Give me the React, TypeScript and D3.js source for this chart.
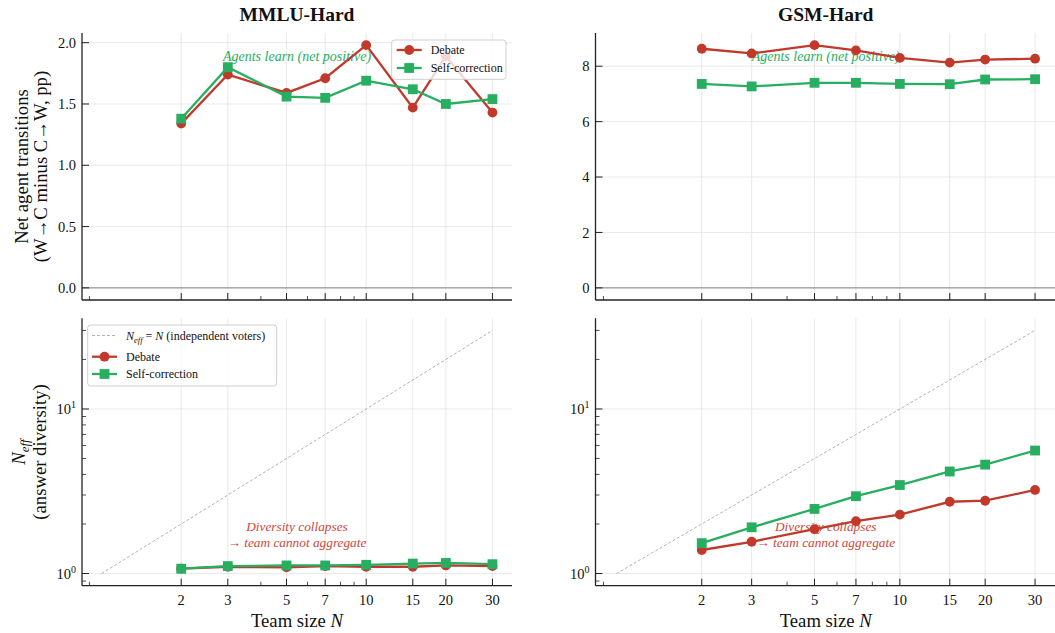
import React from "react";
import * as d3 from "d3";

// team sizes on the shared log x axis
const teamSizes = [2, 3, 5, 7, 10, 15, 20, 30];
const xMajorTicks = [2, 3, 5, 7, 10, 15, 20, 30];

// net agent transitions (pp)
const mmluNetDebate = [1.34, 1.74, 1.59, 1.71, 1.98, 1.47, 1.89, 1.43];
const mmluNetSelf = [1.38, 1.8, 1.56, 1.55, 1.69, 1.62, 1.5, 1.54];
const gsmNetDebate = [8.63, 8.46, 8.76, 8.57, 8.3, 8.13, 8.24, 8.27];
const gsmNetSelf = [7.36, 7.27, 7.4, 7.4, 7.36, 7.35, 7.52, 7.53];

// effective number of voters
const mmluNeffDebate = [1.07, 1.1, 1.09, 1.11, 1.1, 1.1, 1.12, 1.11];
const mmluNeffSelf = [1.07, 1.11, 1.12, 1.12, 1.13, 1.15, 1.16, 1.14];
const gsmNeffDebate = [1.39, 1.56, 1.86, 2.08, 2.28, 2.73, 2.77, 3.22];
const gsmNeffSelf = [1.53, 1.91, 2.47, 2.95, 3.45, 4.17, 4.59, 5.59];

const mmluNetTicks = [0, 0.5, 1, 1.5, 2];
const gsmNetTicks = [0, 2, 4, 6, 8];
const neffMajorTicks = [1, 10];
const identityLine = [1, 30];

const titles = ["MMLU-Hard", "GSM-Hard"];

const FONT = "'Liberation Serif', 'Times New Roman', serif";
const RED = "#c0392b";
const GREEN = "#27ae60";
const SPINE = "#222";
const GRID = "#e3e3e3";

const cols = [
  { x0: 82, x1: 512 },
  { x0: 595.5, x1: 1056 },
];
const rows = [
  { y0: 33, y1: 300 },
  { y0: 318.3, y1: 585.7 },
];

function logPadDomain(lo: number, hi: number): [number, number] {
  const a = Math.log10(lo);
  const b = Math.log10(hi);
  const p = 0.05 * (b - a);
  return [Math.pow(10, a - p), Math.pow(10, b + p)];
}

function linPadDomain(lo: number, hi: number): [number, number] {
  const p = 0.05 * (hi - lo);
  return [lo - p, hi + p];
}

function minorLog(domain: number[], majors: number[]) {
  const out: number[] = [];
  for (let e = -1; e <= 2; e++) {
    for (let m = 2; m <= 9; m++) {
      const v = m * Math.pow(10, e);
      if (v >= domain[0] && v <= domain[1] && !majors.includes(v)) out.push(v);
    }
  }
  return out;
}

const xDomain = logPadDomain(identityLine[0], identityLine[1]);

type Series = { values: number[]; color: string; marker: "circle" | "square" };

function Marker({ cx, cy, color, kind }: any) {
  if (kind === "circle") return <circle cx={cx} cy={cy} r={4.9} fill={color} />;
  return <rect x={cx - 4.9} y={cy - 4.9} width={9.8} height={9.8} fill={color} />;
}

function Panel(props: any) {
  const { col, row, series, yType, yTicks, yMax, showXLabels, note, legend } = props;
  const { x0, x1 } = cols[col];
  const { y0, y1 } = rows[row];

  const x = d3.scaleLog().domain(xDomain).range([x0, x1]);
  const y: any =
    yType === "log"
      ? d3.scaleLog().domain(logPadDomain(identityLine[0], identityLine[1])).range([y1, y0])
      : d3.scaleLinear().domain(linPadDomain(0, yMax)).range([y1, y0]);

  const xMinor = minorLog(xDomain, xMajorTicks);
  const yMinor = yType === "log" ? minorLog(y.domain(), yTicks) : [];

  const line = d3
    .line<number>()
    .x((_, i) => x(teamSizes[i]))
    .y((d) => y(d));

  const cx = (x0 + x1) / 2;

  return (
    <g>
      {/* grid */}
      {xMajorTicks.map((t) => (
        <line key={"gx" + t} x1={x(t)} x2={x(t)} y1={y0} y2={y1} stroke={GRID} strokeWidth={0.8} />
      ))}
      {yTicks.map((t: number) => (
        <line key={"gy" + t} x1={x0} x2={x1} y1={y(t)} y2={y(t)} stroke={GRID} strokeWidth={0.8} />
      ))}

      {yType === "lin" && (
        <line x1={x0} x2={x1} y1={y(0)} y2={y(0)} stroke="#777" strokeWidth={0.9} />
      )}
      {yType === "log" && (
        <line
          x1={x(identityLine[0])}
          y1={y(identityLine[0])}
          x2={x(identityLine[1])}
          y2={y(identityLine[1])}
          stroke="#aaa"
          strokeWidth={0.9}
          strokeDasharray="3,2"
        />
      )}

      {/* annotation */}
      {note && (
        <text
          fontFamily={FONT}
          fontStyle="italic"
          fontSize={note.size}
          fill={note.color}
          textAnchor="middle"
        >
          {note.lines.map((s: string, i: number) => (
            <tspan key={i} x={cx} y={y1 - note.frac[i] * (y1 - y0)} dy="0.35em">
              {s}
            </tspan>
          ))}
        </text>
      )}

      {/* series */}
      {series.map((s: Series, k: number) => (
        <g key={k}>
          <path d={line(s.values) || ""} fill="none" stroke={s.color} strokeWidth={2.3} />
          {s.values.map((v, i) => (
            <Marker key={i} cx={x(teamSizes[i])} cy={y(v)} color={s.color} kind={s.marker} />
          ))}
        </g>
      ))}

      {/* spines */}
      <line x1={x0} x2={x0} y1={y0} y2={y1} stroke={SPINE} strokeWidth={1.3} />
      <line x1={x0} x2={x1} y1={y1} y2={y1} stroke={SPINE} strokeWidth={1.3} />

      {/* x ticks (inward) */}
      {xMajorTicks.map((t) => (
        <line key={"xt" + t} x1={x(t)} x2={x(t)} y1={y1} y2={y1 - 7} stroke={SPINE} strokeWidth={1} />
      ))}
      {xMinor.map((t) => (
        <line key={"xm" + t} x1={x(t)} x2={x(t)} y1={y1} y2={y1 - 4} stroke={SPINE} strokeWidth={0.8} />
      ))}
      {showXLabels &&
        xMajorTicks.map((t) => (
          <text key={"xl" + t} x={x(t)} y={605} textAnchor="middle" fontFamily={FONT} fontSize={14.5} fill="#111">
            {t}
          </text>
        ))}
      {showXLabels && (
        <text x={cx} y={627} textAnchor="middle" fontFamily={FONT} fontSize={18.7} fill="#111">
          Team size <tspan fontStyle="italic">N</tspan>
        </text>
      )}

      {/* y ticks (inward) */}
      {yTicks.map((t: number) => (
        <line key={"yt" + t} x1={x0} x2={x0 + 7} y1={y(t)} y2={y(t)} stroke={SPINE} strokeWidth={1} />
      ))}
      {yMinor.map((t: number) => (
        <line key={"ym" + t} x1={x0} x2={x0 + 4} y1={y(t)} y2={y(t)} stroke={SPINE} strokeWidth={0.8} />
      ))}
      {yTicks.map((t: number) =>
        yType === "log" ? (
          <text key={"yl" + t} x={x0 - 6} y={y(t)} dy="0.35em" textAnchor="end" fontFamily={FONT} fontSize={14.5} fill="#111">
            10<tspan fontSize={10} dy="-6">{Math.round(Math.log10(t))}</tspan>
          </text>
        ) : (
          <text key={"yl" + t} x={x0 - 6} y={y(t)} dy="0.35em" textAnchor="end" fontFamily={FONT} fontSize={14.5} fill="#111">
            {yMax < 3 ? d3.format(".1f")(t) : d3.format("d")(t)}
          </text>
        )
      )}

      {row === 0 && (
        <text x={cx} y={20.7} textAnchor="middle" fontFamily={FONT} fontWeight="bold" fontSize={19.5} fill="#111">
          {titles[col]}
        </text>
      )}

      {legend}
    </g>
  );
}

function LegendRow({ x, y, kind, color, children }: any) {
  return (
    <g>
      {kind === "dash" ? (
        <line x1={x} x2={x + 25} y1={y} y2={y} stroke="#aaa" strokeWidth={0.9} strokeDasharray="3,2" />
      ) : (
        <>
          <line x1={x} x2={x + 25} y1={y} y2={y} stroke={color} strokeWidth={2.3} />
          <Marker cx={x + 12.5} cy={y} color={color} kind={kind} />
        </>
      )}
      <text x={x + 34} y={y} dy="0.35em" fontFamily={FONT} fontSize={12} fill="#111">
        {children}
      </text>
    </g>
  );
}

export default function App() {
  const debate = (v: number[]): Series => ({ values: v, color: RED, marker: "circle" });
  const selfc = (v: number[]): Series => ({ values: v, color: GREEN, marker: "square" });

  const topLegend = (
    <g>
      <rect x={391.7} y={40} width={114.3} height={39.3} rx={3} fill="#fff" fillOpacity={0.8} stroke="#cfcfcf" strokeWidth={1} />
      <LegendRow x={396.7} y={50} kind="circle" color={RED}>Debate</LegendRow>
      <LegendRow x={396.7} y={68} kind="square" color={GREEN}>Self-correction</LegendRow>
    </g>
  );

  const bottomLegend = (
    <g>
      <rect x={87.7} y={325} width={189} height={61} rx={3} fill="#fff" fillOpacity={0.8} stroke="#cfcfcf" strokeWidth={1} />
      <LegendRow x={92} y={335.5} kind="dash">
        <tspan fontStyle="italic">N</tspan>
        <tspan fontStyle="italic" fontSize={8.5} dy="3">eff</tspan>
        <tspan dy="-3"> = </tspan>
        <tspan fontStyle="italic">N</tspan>
        <tspan> (independent voters)</tspan>
      </LegendRow>
      <LegendRow x={92} y={356.7} kind="circle" color={RED}>Debate</LegendRow>
      <LegendRow x={92} y={374} kind="square" color={GREEN}>Self-correction</LegendRow>
    </g>
  );

  const learnNote = { lines: ["Agents learn (net positive)"], frac: [0.914], color: GREEN, size: 14 };
  const collapseNote = {
    lines: ["Diversity collapses", "\u2192 team cannot aggregate"],
    frac: [0.222, 0.163],
    color: "#d0473a",
    size: 13.3,
  };

  const topMid = (rows[0].y0 + rows[0].y1) / 2;
  const botMid = (rows[1].y0 + rows[1].y1) / 2;

  return (
    <svg
      width={1055}
      height={633}
      style={{ position: "absolute", left: 0, top: 0, background: "#fff" }}
    >
      <Panel
        col={0}
        row={0}
        yType="lin"
        yTicks={mmluNetTicks}
        yMax={d3.max([...mmluNetDebate, ...mmluNetSelf])}
        series={[debate(mmluNetDebate), selfc(mmluNetSelf)]}
        note={learnNote}
        legend={topLegend}
      />
      <Panel
        col={1}
        row={0}
        yType="lin"
        yTicks={gsmNetTicks}
        yMax={d3.max([...gsmNetDebate, ...gsmNetSelf])}
        series={[debate(gsmNetDebate), selfc(gsmNetSelf)]}
        note={learnNote}
      />
      <Panel
        col={0}
        row={1}
        yType="log"
        yTicks={neffMajorTicks}
        series={[debate(mmluNeffDebate), selfc(mmluNeffSelf)]}
        note={collapseNote}
        showXLabels
        legend={bottomLegend}
      />
      <Panel
        col={1}
        row={1}
        yType="log"
        yTicks={neffMajorTicks}
        series={[debate(gsmNeffDebate), selfc(gsmNeffSelf)]}
        note={collapseNote}
        showXLabels
      />

      {/* y labels */}
      <text transform={`translate(0,${topMid}) rotate(-90)`} textAnchor="middle" fontFamily={FONT} fontSize={18.7} fill="#111">
        <tspan x={0} y={28}>Net agent transitions</tspan>
        <tspan x={0} y={47}>(W{"\u2192"}C minus C{"\u2192"}W, pp)</tspan>
      </text>
      <text transform={`translate(0,${botMid}) rotate(-90)`} textAnchor="middle" fontFamily={FONT} fontSize={18.7} fill="#111">
        <tspan x={0} y={25} fontStyle="italic">
          N<tspan fontSize={13} dy="4">eff</tspan>
        </tspan>
        <tspan x={0} y={46}>(answer diversity)</tspan>
      </text>
    </svg>
  );
}
